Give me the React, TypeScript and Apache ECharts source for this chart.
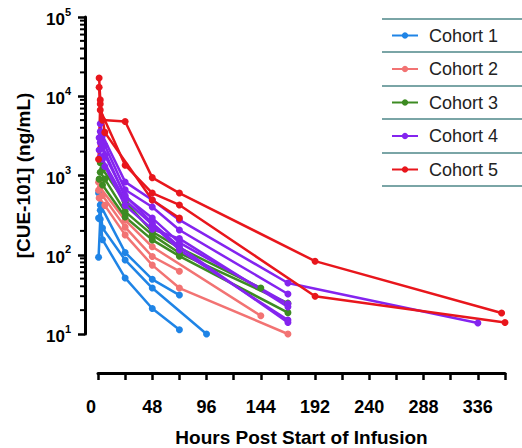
import React, { useEffect, useRef } from "react";
import * as echarts from "echarts";

// ---------- labels / colours ----------
const cohortNames = ["Cohort 1", "Cohort 2", "Cohort 3", "Cohort 4", "Cohort 5"];
const cohortColors = ["#1f84e6", "#f27373", "#3d8b22", "#8424ef", "#e8161c"];
const xLabelHours = [0, 48, 96, 144, 192, 240, 288, 336];
const yDecades = [10, 100, 1000, 10000, 100000];
const minorMultipliers = [2, 3, 4, 5, 6, 7, 8, 9];

// ---------- data: [hours, ng/mL] ----------
// Cohort 1
const c1p1 = [[0.5, 600], [2, 425], [24, 107], [48, 49], [72, 31]];
const c1p2 = [[0.5, 290], [2, 365], [4, 218], [24, 86], [48, 38], [96, 10]];
const c1p3 = [[0.5, 93], [2, 280], [4, 155], [24, 51], [48, 21], [72, 11.3]];
// Cohort 2
const c2p1 = [[0.5, 820], [2, 700], [24, 273], [48, 126], [144, 17]];
const c2p2 = [[0.5, 650], [4, 560], [24, 223], [48, 95], [72, 62]];
const c2p3 = [[1, 520], [6, 420], [24, 178], [48, 74], [72, 38], [168, 10]];
// Cohort 3
const c3p1 = [[2, 1450], [4, 1200], [24, 470], [48, 195], [72, 122], [144, 38]];
const c3p2 = [[2, 1100], [6, 900], [24, 350], [48, 178], [72, 105], [168, 24.5]];
const c3p3 = [[1, 900], [4, 760], [24, 300], [48, 154], [72, 96], [168, 18.6]];
// Cohort 4
const c4p1 = [[2, 4500], [4, 3200], [24, 830], [48, 490], [72, 275], [168, 44], [336, 13.8]];
const c4p2 = [[2, 3600], [6, 2400], [24, 660], [48, 400], [72, 205], [168, 32]];
const c4p3 = [[1, 3000], [4, 2300], [24, 540], [48, 290], [72, 142], [168, 24]];
const c4p4 = [[2, 2600], [6, 1800], [24, 560], [48, 250], [72, 126], [168, 14]];
const c4p5 = [[1, 2100], [4, 1600], [24, 490], [48, 240], [72, 115], [168, 15]];
const c4p6 = [[2, 1700], [6, 1300], [24, 420], [48, 210], [72, 160], [168, 22]];
// Cohort 5
const c5p1 = [[1, 17000], [2, 9000], [4, 5000], [24, 4800], [48, 940], [72, 600], [192, 83], [357, 18.4]];
const c5p2 = [[1, 13000], [2, 6700], [24, 1350], [48, 600], [72, 425], [192, 30], [360, 14]];
const c5p3 = [[0.5, 1600], [2, 8000], [6, 3500], [48, 490], [72, 290]];

const cohorts = [
  [c1p1, c1p2, c1p3],
  [c2p1, c2p2, c2p3],
  [c3p1, c3p2, c3p3],
  [c4p1, c4p2, c4p3, c4p4, c4p5, c4p6],
  [c5p1, c5p2, c5p3],
];

const FONT = "'Liberation Sans', Arial, Helvetica, sans-serif";
const GRID = { left: 98, right: 17, top: 17, bottom: 114, containLabel: false, outerBoundsMode: "none" };
const Y_OFFSET = 13;
const X_OFFSET = 39;

function baseX(showLine: boolean, showLabels: boolean): any {
  return {
    type: "value",
    min: 0,
    max: 360,
    interval: 24,
    offset: X_OFFSET,
    name: showLabels ? "Hours Post Start of Infusion" : "",
    nameLocation: "middle",
    nameGap: 55,
    nameTextStyle: { fontSize: 19, fontWeight: "bold", color: "#000", fontFamily: FONT },
    axisLine: { show: showLine, onZero: false, lineStyle: { color: "#000", width: 3 } },
    axisTick: { show: showLine, length: 7, lineStyle: { color: "#000", width: 2.5 } },
    splitLine: { show: false },
    axisLabel: {
      show: showLabels,
      margin: 25,
      fontSize: 18,
      fontWeight: "bold",
      color: "#000",
      fontFamily: FONT,
      formatter: (v: number) => {
        if (xLabelHours.indexOf(v) < 0) return "";
        if (v === 0) return "{z|0}";
        return String(v);
      },
      rich: {
        z: { fontSize: 18, fontWeight: "bold", color: "#000", fontFamily: FONT, padding: [0, 14, 0, 0] },
      },
    },
  };
}

function baseY(showLine: boolean, showLabels: boolean): any {
  return {
    type: "log",
    logBase: 10,
    min: yDecades[0],
    max: yDecades[yDecades.length - 1],
    offset: Y_OFFSET,
    name: showLabels ? "[CUE-101] (ng/mL)" : "",
    nameLocation: "middle",
    nameGap: 52,
    nameTextStyle: { fontSize: 19, fontWeight: "bold", color: "#000", fontFamily: FONT },
    axisLine: { show: showLine, onZero: false, lineStyle: { color: "#000", width: 3 } },
    axisTick: { show: showLine, length: 7, lineStyle: { color: "#000", width: 2.5 } },
    splitLine: { show: false },
    axisLabel: {
      show: showLabels,
      margin: 14,
      formatter: (v: number) => "{b|10}{s|" + Math.round(Math.log10(v)) + "}",
      rich: {
        b: { fontSize: 17, fontWeight: "bold", color: "#000", fontFamily: FONT, lineHeight: 22, verticalAlign: "bottom" },
        s: { fontSize: 11, fontWeight: "bold", color: "#000", fontFamily: FONT, lineHeight: 12, verticalAlign: "top" },
      },
    },
  };
}

export default function App() {
  const mainRef = useRef<HTMLDivElement>(null);
  const axisRef = useRef<HTMLDivElement>(null);

  useEffect(() => {
    if (!mainRef.current || !axisRef.current) return;
    const chart = echarts.init(mainRef.current, null, { renderer: "svg" });
    const axes = echarts.init(axisRef.current, null, { renderer: "svg" });

    const lineSeries: any[] = [];
    cohorts.forEach((patients, i) => {
      patients.forEach((p) => {
        lineSeries.push({
          type: "line",
          name: cohortNames[i],
          data: p,
          symbol: "circle",
          symbolSize: 7,
          clip: false,
          color: cohortColors[i],
          lineStyle: { color: cohortColors[i], width: 2.5 },
          itemStyle: { color: cohortColors[i] },
        });
      });
    });

    const sepYs = [19, 52, 86, 119, 153, 186];

    // main chart: data, legend, labels
    chart.setOption({
      animation: false,
      grid: GRID,
      legend: {
        data: cohortNames,
        orient: "vertical",
        left: 391,
        top: 25.5,
        padding: 0,
        itemGap: 13.5,
        itemWidth: 26,
        itemHeight: 8,
        textStyle: { fontSize: 18, color: "#222", fontFamily: FONT, lineHeight: 20, padding: [0, 0, 0, 6] },
      },
      graphic: sepYs.map((y) => ({
        type: "line",
        shape: { x1: 382, y1: y, x2: 522, y2: y },
        style: { stroke: "#7aa5a6", lineWidth: 2 },
        silent: true,
      })),
      xAxis: baseX(false, true),
      yAxis: baseY(false, true),
      series: lineSeries,
    } as any);

    // overlay chart: axis lines and ticks on the same grid and scales
    axes.setOption({
      animation: false,
      grid: GRID,
      xAxis: baseX(true, false),
      yAxis: baseY(true, false),
      series: [],
    } as any);
    const axisX = (axes.convertToPixel({ xAxisIndex: 0 }, 0) as number) - Y_OFFSET;
    const minor: any[] = [];
    yDecades.slice(0, -1).forEach((d) => {
      minorMultipliers.forEach((m) => {
        const py = axes.convertToPixel({ yAxisIndex: 0 }, d * m) as number;
        minor.push({
          type: "line",
          shape: { x1: axisX, y1: py, x2: axisX - 5, y2: py },
          style: { stroke: "#000", lineWidth: 2 },
          silent: true,
        });
      });
    });
    axes.setOption({ graphic: minor });

    return () => {
      chart.dispose();
      axes.dispose();
    };
  }, []);

  return (
    <div style={{ position: "fixed", left: 0, top: 0, width: 522, height: 448, background: "#fff" }}>
      <div ref={mainRef} style={{ position: "absolute", left: 0, top: 0, width: 522, height: 448 }} />
      <div ref={axisRef} style={{ position: "absolute", left: 0, top: 0, width: 522, height: 448, pointerEvents: "none" }} />
    </div>
  );
}
